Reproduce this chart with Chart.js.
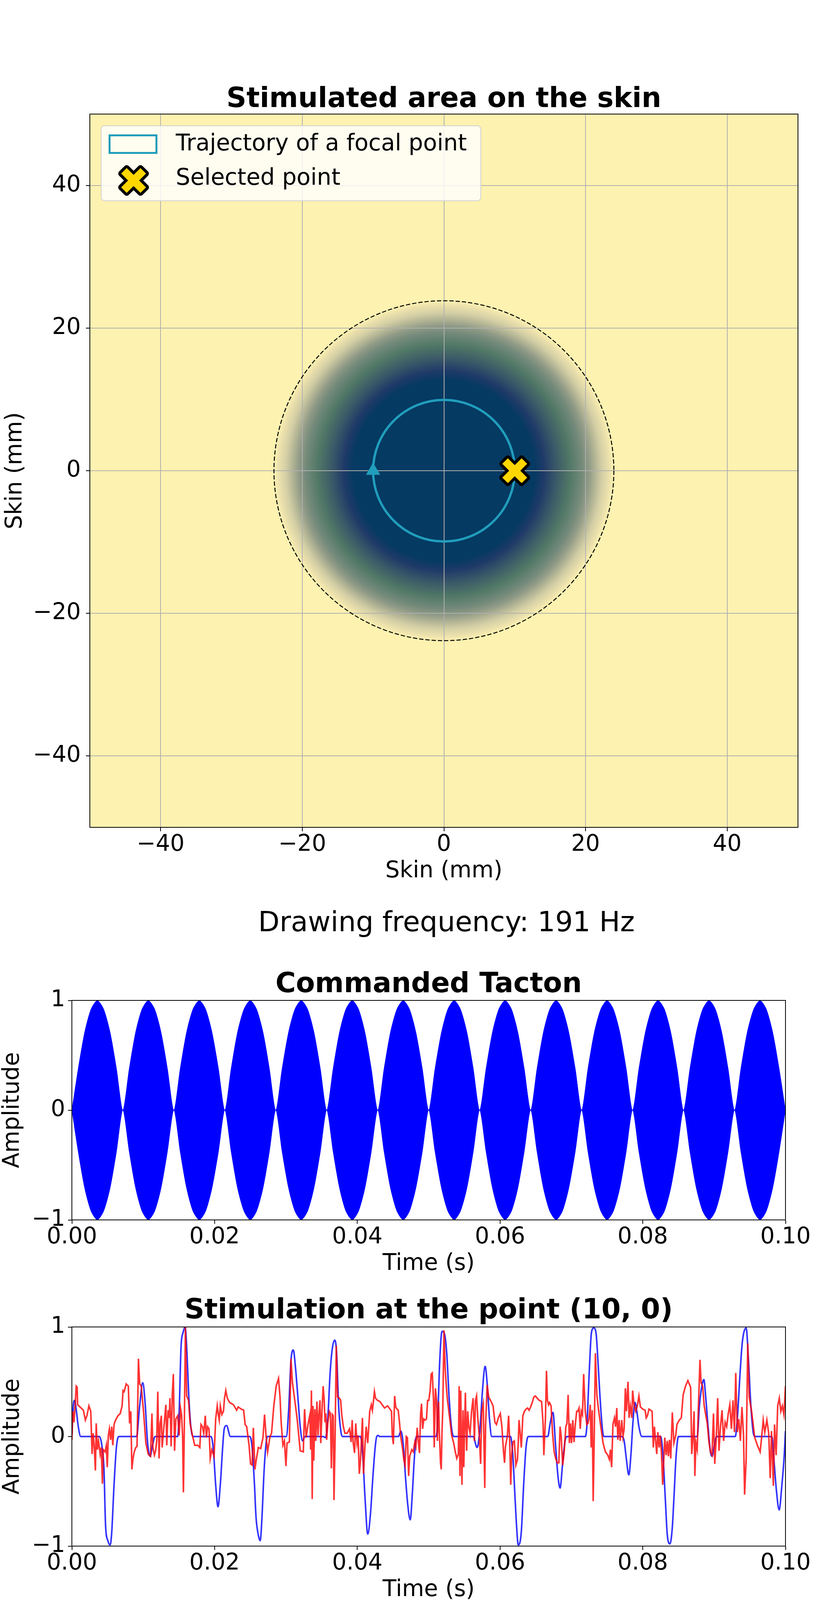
<!DOCTYPE html>
<html>
<head>
<meta charset="utf-8">
<title>Focal point stimulation</title>
<script src="https://cdn.jsdelivr.net/npm/chart.js@4.4.1/dist/chart.umd.min.js"></script>
<style>
  body { margin: 0; background: #fff; width: 2084px; height: 4950px; position: relative; overflow: hidden; }
  #page { position: absolute; left: 0; top: 0; width: 2084px; height: 4950px; }
  .panel { position: absolute; left: 0; width: 2084px; }
  #freqText { position: absolute; left: 143px; width: 2000px; top: 2324px; text-align: center;
              font: 71px/71px 'DejaVu Sans'; color: #000; }
</style>
</head>
<body>
<div id="page">
<div class="panel" style="top:180px;height:2120px"><canvas id="skinChart" width="2084" height="2120"></canvas></div>
<div id="freqText">Drawing frequency: 191 Hz</div>
<div class="panel" style="top:2440px;height:865px"><canvas id="tactonChart" width="2084" height="865"></canvas></div>
<div class="panel" style="top:3305px;height:835px"><canvas id="pointChart" width="2084" height="835"></canvas></div>
<div class="panel" style="top:4140px;height:810px"><canvas id="spectrumChart" width="2084" height="810"></canvas></div>
</div>
<script>
// ---- skin map ----
const skinTicks = [-40, -20, 0, 20, 40];
const focusCenter = [0, 0];
const heatRadius = [0, 12.8, 14.1, 15.8, 17.7, 19.5, 20.5, 21.4, 22.3, 23.3, 24];
const heatColor = ['#053a62', '#053a62', '#1f3a68', '#3a5868', '#4f7766', '#748a7a',
                   '#919b87', '#b3b595', '#d3cea5', '#ebe0ac', '#fbf0b0'];
const trajectoryRadius = 10;
const boundaryRadius = 24;
const startPoint = [{x: -10, y: 0}];
const selectedPoint = [{x: 10, y: 0}];
const legendLabels = ['Trajectory of a focal point', 'Selected point'];

// ---- time signals ----
const timeTicks = [0, 0.02, 0.04, 0.06, 0.08, 0.1];
const ampTicks = [-1, 0, 1];

const tactonTime = [
  0, 0.00089, 0.00179, 0.00268, 0.00357, 0.00446, 0.00536, 0.00625,
  0.00714, 0.00804, 0.00893, 0.00982, 0.01071, 0.01161, 0.0125, 0.01339,
  0.01429, 0.01518, 0.01607, 0.01696, 0.01786, 0.01875, 0.01964, 0.02054,
  0.02143, 0.02232, 0.02321, 0.02411, 0.025, 0.02589, 0.02679, 0.02768,
  0.02857, 0.02946, 0.03036, 0.03125, 0.03214, 0.03304, 0.03393, 0.03482,
  0.03571, 0.03661, 0.0375, 0.03839, 0.03929, 0.04018, 0.04107, 0.04196,
  0.04286, 0.04375, 0.04464, 0.04554, 0.04643, 0.04732, 0.04821, 0.04911,
  0.05, 0.05089, 0.05179, 0.05268, 0.05357, 0.05446, 0.05536, 0.05625,
  0.05714, 0.05804, 0.05893, 0.05982, 0.06071, 0.06161, 0.0625, 0.06339,
  0.06429, 0.06518, 0.06607, 0.06696, 0.06786, 0.06875, 0.06964, 0.07054,
  0.07143, 0.07232, 0.07321, 0.07411, 0.075, 0.07589, 0.07679, 0.07768,
  0.07857, 0.07946, 0.08036, 0.08125, 0.08214, 0.08304, 0.08393, 0.08482,
  0.08571, 0.08661, 0.0875, 0.08839, 0.08929, 0.09018, 0.09107, 0.09196,
  0.09286, 0.09375, 0.09464, 0.09554, 0.09643, 0.09732, 0.09821, 0.09911,
  0.1
];
const tactonUpper = [
  0, 0.38, 0.71, 0.92, 1, 0.92, 0.71, 0.38,
  0, 0.38, 0.71, 0.92, 1, 0.92, 0.71, 0.38,
  0, 0.38, 0.71, 0.92, 1, 0.92, 0.71, 0.38,
  0, 0.38, 0.71, 0.92, 1, 0.92, 0.71, 0.38,
  0, 0.38, 0.71, 0.92, 1, 0.92, 0.71, 0.38,
  0, 0.38, 0.71, 0.92, 1, 0.92, 0.71, 0.38,
  0, 0.38, 0.71, 0.92, 1, 0.92, 0.71, 0.38,
  0, 0.38, 0.71, 0.92, 1, 0.92, 0.71, 0.38,
  0, 0.38, 0.71, 0.92, 1, 0.92, 0.71, 0.38,
  0, 0.38, 0.71, 0.92, 1, 0.92, 0.71, 0.38,
  0, 0.38, 0.71, 0.92, 1, 0.92, 0.71, 0.38,
  0, 0.38, 0.71, 0.92, 1, 0.92, 0.71, 0.38,
  0, 0.38, 0.71, 0.92, 1, 0.92, 0.71, 0.38,
  0, 0.38, 0.71, 0.92, 1, 0.92, 0.71, 0.38,
  0
];
const tactonLower = [
  0, -0.38, -0.71, -0.92, -1, -0.92, -0.71, -0.38,
  0, -0.38, -0.71, -0.92, -1, -0.92, -0.71, -0.38,
  0, -0.38, -0.71, -0.92, -1, -0.92, -0.71, -0.38,
  0, -0.38, -0.71, -0.92, -1, -0.92, -0.71, -0.38,
  0, -0.38, -0.71, -0.92, -1, -0.92, -0.71, -0.38,
  0, -0.38, -0.71, -0.92, -1, -0.92, -0.71, -0.38,
  0, -0.38, -0.71, -0.92, -1, -0.92, -0.71, -0.38,
  0, -0.38, -0.71, -0.92, -1, -0.92, -0.71, -0.38,
  0, -0.38, -0.71, -0.92, -1, -0.92, -0.71, -0.38,
  0, -0.38, -0.71, -0.92, -1, -0.92, -0.71, -0.38,
  0, -0.38, -0.71, -0.92, -1, -0.92, -0.71, -0.38,
  0, -0.38, -0.71, -0.92, -1, -0.92, -0.71, -0.38,
  0, -0.38, -0.71, -0.92, -1, -0.92, -0.71, -0.38,
  0, -0.38, -0.71, -0.92, -1, -0.92, -0.71, -0.38,
  0
];

const expectedTime = [
  0, 0.0002, 0.00037, 0.0006, 0.0009, 0.00124, 0.00385, 0.0042, 0.0045, 0.00472, 0.00504, 0.00537,
  0.00559, 0.00591, 0.00624, 0.00657, 0.00907, 0.0095, 0.00993, 0.01026, 0.0106, 0.01096, 0.0113, 0.01167,
  0.01483, 0.01504, 0.0153, 0.01559, 0.01587, 0.01613, 0.01639, 0.01667, 0.017, 0.0195, 0.01983, 0.02015,
  0.02048, 0.0208, 0.02113, 0.02135, 0.02167, 0.02222, 0.02493, 0.02526, 0.02559, 0.0258, 0.02613, 0.02639,
  0.02667, 0.02689, 0.02711, 0.02739, 0.03004, 0.03037, 0.0307, 0.03102, 0.03135, 0.03167, 0.032, 0.03233,
  0.03265, 0.0352, 0.03554, 0.03586, 0.03619, 0.03651, 0.03684, 0.0371, 0.03738, 0.03771, 0.03793, 0.04044,
  0.04076, 0.04109, 0.04146, 0.04185, 0.04218, 0.0425, 0.04272, 0.04294, 0.0431, 0.04577, 0.0461, 0.04643,
  0.04675, 0.04708, 0.04741, 0.04773, 0.04795, 0.04828, 0.051, 0.05122, 0.05155, 0.05187, 0.0522, 0.05253,
  0.05286, 0.05318, 0.05351, 0.05623, 0.05678, 0.05721, 0.05754, 0.05791, 0.05819, 0.05852, 0.05884, 0.06146,
  0.06179, 0.06211, 0.06233, 0.06255, 0.06298, 0.06331, 0.06364, 0.06396, 0.06669, 0.06702, 0.06741, 0.0678,
  0.06813, 0.06841, 0.06878, 0.06911, 0.06937, 0.07194, 0.07216, 0.07248, 0.07281, 0.07314, 0.07346, 0.07372,
  0.07401, 0.07434, 0.07455, 0.07706, 0.07739, 0.07771, 0.07804, 0.07837, 0.07858, 0.07891, 0.07917, 0.07946,
  0.07989, 0.0825, 0.08283, 0.08316, 0.08344, 0.08381, 0.08414, 0.08436, 0.08468, 0.08501, 0.08763, 0.08795,
  0.08828, 0.08856, 0.08882, 0.08915, 0.08948, 0.0897, 0.09003, 0.09035, 0.09296, 0.09329, 0.09362, 0.09395,
  0.09449, 0.09482, 0.09514, 0.09547, 0.09569, 0.09808, 0.09841, 0.09874, 0.09911, 0.0995, 0.09983, 0.1
];
const expectedAmp = [
  0.02, 0.28, 0.33, 0.25, 0.09, 0, 0, -0.08, -0.3, -0.81, -0.95, -0.99,
  -0.87, -0.44, -0.1, 0, 0, 0.28, 0.49, 0.31, -0.05, -0.18, -0.08, 0,
  0, 0.23, 0.82, 0.95, 1.0, 0.76, 0.36, 0.09, 0, 0, -0.12, -0.44,
  -0.64, -0.44, -0.1, 0.07, 0.1, 0, 0, -0.1, -0.44, -0.73, -0.9, -0.95,
  -0.7, -0.37, -0.14, 0, 0, 0.23, 0.69, 0.79, 0.62, 0.36, 0.09, -0.04,
  0, 0, -0.01, 0.16, 0.58, 0.81, 0.88, 0.76, 0.28, 0.04, 0, 0,
  -0.17, -0.57, -0.89, -0.7, -0.37, -0.1, 0, 0.01, 0, 0, 0.05, -0.07,
  -0.37, -0.63, -0.76, -0.5, -0.24, 0, 0, 0.09, 0.69, 0.96, 0.94, 0.76,
  0.36, 0.09, 0, 0, -0.1, 0.09, 0.42, 0.64, 0.49, 0.16, 0, 0,
  -0.17, -0.57, -0.83, -0.99, -0.87, -0.44, -0.1, 0, 0, 0.12, 0.22, -0.1,
  -0.37, -0.47, -0.24, -0.04, 0, 0, 0.09, 0.56, 0.95, 0.99, 0.94, 0.69,
  0.36, 0.07, 0, 0, -0.04, -0.21, -0.35, -0.14, 0.09, 0.31, 0.23, 0.09,
  0, 0, -0.17, -0.57, -0.9, -0.98, -0.83, -0.57, -0.17, 0, 0, 0.29,
  0.46, 0.52, 0.36, 0.09, -0.14, -0.18, -0.08, 0, 0, 0.2, 0.56, 0.86,
  0.99, 0.69, 0.29, 0.04, 0, 0, -0.24, -0.5, -0.67, -0.44, -0.17, 0.05
];

const measuredTime = [
  0, 0.00015, 0.0003, 0.00048, 0.00061, 0.00074, 0.0008, 0.00113, 0.00146, 0.00161, 0.00189, 0.00211,
  0.00239, 0.00265, 0.00283, 0.00298, 0.00313, 0.0033, 0.00341, 0.00357, 0.00374, 0.00396, 0.00411, 0.00428,
  0.00439, 0.00465, 0.00483, 0.00496, 0.00511, 0.00526, 0.00543, 0.00559, 0.00574, 0.00591, 0.00613, 0.00646,
  0.00678, 0.00704, 0.00717, 0.00733, 0.00761, 0.00791, 0.00809, 0.00826, 0.00841, 0.00857, 0.00874, 0.00896,
  0.00913, 0.00933, 0.0095, 0.00972, 0.01004, 0.01037, 0.0107, 0.01102, 0.01122, 0.01135, 0.01157, 0.01174,
  0.01189, 0.01204, 0.01222, 0.01237, 0.01254, 0.01265, 0.01287, 0.01317, 0.0133, 0.01348, 0.01365, 0.01374,
  0.01391, 0.01407, 0.01422, 0.01439, 0.01457, 0.01483, 0.01504, 0.01522, 0.01537, 0.01552, 0.01563, 0.01576,
  0.01591, 0.01609, 0.01635, 0.01657, 0.01689, 0.01722, 0.01765, 0.01793, 0.01809, 0.0183, 0.01848, 0.0187,
  0.01885, 0.01902, 0.01922, 0.01939, 0.01961, 0.01993, 0.02015, 0.02037, 0.02052, 0.02065, 0.0208, 0.02102,
  0.02124, 0.02139, 0.02157, 0.02178, 0.02211, 0.02265, 0.02309, 0.0233, 0.02374, 0.02407, 0.02428, 0.0245,
  0.02483, 0.02504, 0.02526, 0.02543, 0.02565, 0.02587, 0.02613, 0.02646, 0.02678, 0.027, 0.02722, 0.02743,
  0.02776, 0.02798, 0.0283, 0.02863, 0.02896, 0.02917, 0.02933, 0.02957, 0.02978, 0.03, 0.03015, 0.03048,
  0.0307, 0.03091, 0.03124, 0.03157, 0.032, 0.03243, 0.03261, 0.03283, 0.03309,
  0.03336, 0.03346, 0.03357, 0.03368, 0.03379, 0.0339, 0.03405, 0.03418, 0.03434, 0.03449, 0.03462, 0.03477,
  0.03488, 0.03505, 0.03521, 0.03536, 0.03547, 0.0356, 0.03571, 0.03586, 0.03608, 0.03623, 0.03636, 0.03651,
  0.03662, 0.03673, 0.03688, 0.03705, 0.03723, 0.03749, 0.03767, 0.03782, 0.03804, 0.03826, 0.03858, 0.03891,
  0.03913, 0.03928, 0.03941, 0.03961, 0.03978, 0.03996, 0.04011, 0.04028, 0.04044, 0.04072, 0.04087, 0.04109,
  0.04124, 0.04146, 0.04174, 0.04196, 0.04211, 0.04224, 0.0424, 0.04255, 0.04283, 0.04316, 0.04349, 0.04381,
  0.04425, 0.04458, 0.04479, 0.0449, 0.04505, 0.04523, 0.04538, 0.04556, 0.04573, 0.04588, 0.0461, 0.04632,
  0.04654, 0.04669, 0.04686, 0.04702, 0.04719, 0.04734, 0.04763, 0.04784, 0.04806, 0.04821, 0.04839, 0.04854,
  0.04871, 0.04887, 0.049, 0.04915, 0.04932, 0.04948, 0.04969, 0.04985, 0.05002, 0.0502, 0.05035, 0.0505,
  0.05068, 0.05078, 0.05094, 0.05111, 0.05122, 0.05139, 0.0515, 0.05166, 0.05176, 0.05187, 0.05198, 0.05214,
  0.05231, 0.05248, 0.05264, 0.05296, 0.05322, 0.05351, 0.05373, 0.05394, 0.05416, 0.05427, 0.05438, 0.05449,
  0.05466, 0.05481, 0.05492, 0.05514, 0.05532, 0.05547, 0.05562, 0.0558, 0.05601, 0.05623, 0.05641, 0.05656,
  0.05671, 0.05688, 0.0571, 0.05728, 0.05743, 0.05765, 0.05786, 0.05797, 0.05819, 0.05841, 0.05874, 0.05902,
  0.05928, 0.0595, 0.05976, 0.06004, 0.06026, 0.06048, 0.06063, 0.06076, 0.06102, 0.0612, 0.06135, 0.0615,
  0.06163, 0.06179, 0.062, 0.06222, 0.06244, 0.06255, 0.06266, 0.06281, 0.06298, 0.0632, 0.06342, 0.06364,
  0.06386, 0.06407, 0.06429, 0.06451, 0.06473, 0.06495, 0.06521, 0.06549, 0.06582, 0.06603, 0.06614, 0.06636,
  0.06651, 0.06664, 0.0668,
  0.06693, 0.06715, 0.06736, 0.06758, 0.0678, 0.06802, 0.06824, 0.06841, 0.06856, 0.06878, 0.069, 0.06922,
  0.06937, 0.06954, 0.06972, 0.06987, 0.07002, 0.0702, 0.07037, 0.07052, 0.07074, 0.07089, 0.07107, 0.07124,
  0.07139, 0.07155, 0.07172, 0.07194, 0.07216, 0.07233, 0.07248, 0.07264, 0.07277, 0.07292, 0.07305, 0.0732,
  0.07336, 0.07357, 0.07379, 0.07412, 0.07444, 0.07477, 0.0751, 0.07532, 0.07547, 0.07564, 0.07582, 0.07603,
  0.07619, 0.07636, 0.07651, 0.07669, 0.07684, 0.07706, 0.07723, 0.07739, 0.07756, 0.07771, 0.07793, 0.07808,
  0.07826, 0.07847, 0.07858, 0.0788, 0.07902, 0.07924, 0.07946, 0.07967, 0.08, 0.08033, 0.08048, 0.08065,
  0.08087, 0.08109, 0.08131, 0.08148, 0.08163, 0.08179, 0.08196, 0.08211, 0.08229, 0.08244, 0.08261, 0.08279,
  0.08294, 0.08309, 0.08327, 0.08344, 0.08359, 0.08375, 0.08392, 0.08414, 0.08436, 0.08462, 0.08479, 0.08512,
  0.0854, 0.08566, 0.08599, 0.08632, 0.08671, 0.08686, 0.08702, 0.08719, 0.0873, 0.08745, 0.08763, 0.0878,
  0.08802, 0.08817, 0.08839, 0.08861, 0.08882, 0.08904, 0.08926, 0.08948, 0.0897, 0.08991, 0.09009, 0.09028,
  0.0905, 0.09068, 0.09089, 0.09111, 0.09133, 0.09155, 0.09176, 0.09198, 0.0922, 0.09242, 0.09264, 0.09285,
  0.09303, 0.09325, 0.09346, 0.09368, 0.0939, 0.09412, 0.09427, 0.09449, 0.09471, 0.09492, 0.09525, 0.09569,
  0.09612, 0.09645, 0.09667, 0.09688, 0.0971, 0.09739, 0.09765, 0.09786, 0.09804, 0.0983, 0.09847, 0.09869,
  0.09891, 0.09913, 0.09935, 0.09956, 0.09978, 0.1
];
const measuredAmp = [
  -0.03, 0.23, 0.13, 0.31, 0.46, 0.45, 0.29, 0.27, 0.25, 0.24, 0.15, 0.19,
  0.28, 0.23, -0.16, 0.03, -0.09, -0.31, 0.12, -0.12, -0.04, -0.16, -0.1, -0.43,
  -0.12, -0.14, -0.08, -0.28, 0.01, 0.07, -0.03, 0.09, -0.08, 0.11, 0.15, 0.19,
  0.21, 0.28, 0.42, 0.41, 0.48, 0.46, 0.12, 0.23, -0.3, -0.2, -0.14, -0.1,
  -0.09, 0.71, 0.48, 0.46, 0.23, -0.06, -0.16, -0.18, 0.21, -0.1, -0.17, -0.13,
  -0.04, 0.41, -0.2, 0.12, 0.19, -0.1, 0.07, 0.29, -0.08, 0.24, 0.17, 0.35,
  -0.09, 0.38, 0.57, -0.13, 0.16, 0.19, 0.01, 0.26, 0.2, 0.0, -0.51, 0.09,
  1.0, 0.37, 0.33, 0.12, 0.01, -0.08, -0.08, -0.1, 0.11, 0.09, 0.03, 0.19,
  -0.01, 0.09, 0.07, -0.2, -0.12, -0.18, 0.16, 0.28, 0.2, 0.15, 0.28, 0.2,
  0.23, 0.35, 0.42, 0.35, 0.31, 0.29, 0.24, 0.27, 0.25, 0.24, 0.11, 0.09,
  -0.08, -0.25, -0.26, 0.08, -0.3, -0.2, -0.1, -0.11, -0.01, 0.2, 0.0, -0.14,
  0.0, 0.03, 0.28, 0.46, 0.53, 0.36, 0.13, -0.08, -0.04, -0.27, -0.06, -0.05,
  0.71, 0.49, 0.33, 0.16, -0.13, -0.14, 0.25, -0.01, 0.11,
  0.2, -0.12, 0.42, -0.57, 0.28, -0.22, 0.25, -0.04, 0.32, 0.01, 0.2, 0.33,
  -0.06, 0.23, 0.46, 0.33, 0.13, 0.21, -0.03, 0.12, 0.23, 0.21, -0.29, 0.2,
  0.19, -0.58, -0.04, 0.83, 0.36, 0.35, 0.33, 0.2, 0.09, 0.03, 0.03, 0.07,
  -0.05, 0.15, -0.05, -0.15, 0.12, -0.06, 0.01, -0.34, -0.22, 0.17, -0.34, -0.06,
  0.09, -0.06, 0.23, 0.29, 0.24, 0.31, 0.41, 0.35, 0.33, 0.32, 0.29, 0.26,
  0.28, 0.25, 0.23, 0.01, -0.07, 0.37, 0.27, 0.25, 0.24, 0.15, -0.01, -0.1,
  -0.22, -0.26, 0.0, -0.01, -0.36, -0.18, -0.12, -0.14, -0.05, -0.09, 0.08, -0.04,
  -0.15, 0.21, 0.3, 0.07, 0.16, 0.15, 0.16, 0.33, 0.33, 0.42, 0.57, 0.58,
  0.33, -0.1, 0.44, 0.33, -0.04, 0.32, 0.03, -0.24, -0.3, 0.05, 0.25, 0.97,
  0.62, 0.45, 0.33, 0.16, 0.01, -0.06, -0.14, -0.2, -0.16, 0.46, -0.36, 0.42,
  -0.44, 0.24, -0.28, 0.4, -0.13, 0.23, 0.09, 0.03, 0.23, 0.35, -0.04, 0.33,
  0.37, 0.17, 0.0, -0.25, 0.23, 0.3, -0.47, 0.09, 0.47, 0.36, 0.32, 0.28,
  0.13, 0.11, 0.17, 0.21, 0.09, -0.13, -0.24, -0.09, 0.0, 0.19, -0.04, -0.44,
  -0.17, -0.05, -0.04, -0.26, -0.21, -0.06, 0.15, 0.04, -0.1, 0.19, 0.23, 0.25,
  0.26, 0.24, 0.27, 0.31, 0.36, 0.37, 0.35, 0.33, 0.32, 0.12, -0.17, 0.16,
  0.6, 0.33, 0.29,
  0.31, 0.28, 0.03, -0.14, -0.2, -0.24, -0.24, 0.09, 0.01, -0.26, -0.13, 0.09,
  0.12, 0.38, -0.06, 0.12, -0.06, 0.15, -0.05, 0.09, 0.23, 0.23, 0.26, 0.07,
  0.23, 0.2, 0.57, 0.23, 0.11, 0.12, 0.17, 0.29, -0.1, 0.24, -0.59, -0.01,
  0.76, 0.38, 0.25, 0.09, -0.06, -0.14, -0.17, -0.21, -0.12, -0.28, 0.11, 0.17,
  0.09, 0.26, -0.03, 0.15, -0.04, 0.15, 0.0, 0.07, 0.44, 0.23, 0.5, 0.17,
  0.28, 0.17, 0.42, 0.28, 0.23, 0.28, 0.37, 0.27, 0.25, 0.24, 0.17, 0.19,
  0.25, 0.24, 0.23, -0.1, 0.09, -0.03, -0.16, 0.04, -0.1, 0.01, -0.14, -0.44,
  -0.22, -0.01, -0.17, -0.04, -0.18, -0.03, -0.2, 0.22, -0.06, 0.01, 0.11, 0.15,
  0.17, 0.38, 0.46, 0.51, 0.45, -0.16, -0.03, 0.23, -0.36, -0.06, -0.12, 0.28,
  0.7, 0.49, 0.46, 0.28, 0.2, 0.12, -0.04, -0.14, -0.17, 0.21, -0.25, -0.04,
  0.35, -0.13, 0.09, 0.24, -0.04, 0.13, 0.09, 0.21, 0.29, 0.07, 0.33, 0.04,
  0.58, 0.04, 0.16, -0.04, 0.27, 0.01, -0.53, -0.21, 0.85, 0.36, 0.23, -0.01,
  -0.09, -0.14, 0.0, 0.15, 0.04, 0.15, 0.03, -0.38, 0.05, -0.45, 0.11, -0.17,
  0.28, 0.35, 0.23, 0.28, 0.2, 0.46
];

// ---- spectrum ----
const freqTicks = [0, 50, 100, 150, 200, 250, 300, 350, 400, 450, 500];
const magTicks = [0, 0.1, 0.2];
const expectedFreq = [0, 45, 49, 50, 50.8, 51.6, 53, 56, 100, 138.5, 139.2, 139.7, 140.3, 141,
  241, 241.6, 242, 242.5, 243, 330, 330.5, 331, 331.6, 332, 432, 432.4, 432.8, 433.2, 434, 500];
const expectedMag = [0, 0.001, 0.003, 0.02, 0.23, 0.02, 0.002, 0.0005, 0.0003, 0.001, 0.02, 0.272, 0.02, 0.001,
  0.001, 0.02, 0.133, 0.02, 0.001, 0.001, 0.02, 0.23, 0.02, 0.001, 0.001, 0.01, 0.043, 0.01, 0.001, 0];
const measuredFreq = [
  0, 20, 40, 55, 59, 60, 61, 70, 75, 80, 85, 87.5, 88.8, 90, 95, 100.5, 102, 103.5, 108, 113.5, 115, 116.5,
  121, 126, 127.3, 128.5, 133, 138.8, 139.8, 141, 146, 151.5, 152.8, 154, 160, 165, 170, 176.5, 178, 179.5,
  185, 189.5, 190.8, 192, 198, 202.3, 203.6, 205, 210, 214.5, 215.6, 217, 222, 227.5, 228.8, 230, 236,
  240.8, 242, 243.2, 248, 253.5, 254.8, 256, 261, 265.5, 266.8, 268, 274, 278.8, 280, 281.2, 287, 291.5,
  292.8, 294, 299, 300, 301, 304.8, 306, 312, 318, 324, 329.8, 331, 332.2, 338, 342.5, 343.6, 345, 350,
  356, 362, 367.6, 368.8, 370, 376, 380.8, 382, 383.2, 388, 393.5, 394.7, 396, 401, 406, 407, 408, 414,
  418.8, 420, 421.2, 427, 431.5, 432.7, 434, 439, 444, 445, 446, 452, 456.8, 458, 459.2, 465, 469.6,
  470.8, 472, 478, 482.7, 483.9, 485, 490, 494.8, 496, 497.2, 500
];
const measuredMag = [
  0.001, 0.001, 0.0012, 0.0015, 0.002, 0.005, 0.002, 0.002, 0.003, 0.002, 0.003, 0.004, 0.058, 0.004, 0.003,
  0.004, 0.017, 0.004, 0.003, 0.004, 0.009, 0.004, 0.003, 0.004, 0.007, 0.003, 0.003, 0.004, 0.175, 0.004,
  0.003, 0.004, 0.016, 0.004, 0.003, 0.004, 0.003, 0.004, 0.013, 0.004, 0.003, 0.004, 0.036, 0.004, 0.003,
  0.004, 0.009, 0.004, 0.003, 0.004, 0.007, 0.003, 0.004, 0.004, 0.019, 0.004, 0.003, 0.004, 0.016, 0.004,
  0.003, 0.004, 0.008, 0.004, 0.003, 0.004, 0.007, 0.004, 0.003, 0.004, 0.054, 0.004, 0.003, 0.004, 0.017,
  0.004, 0.004, 0.008, 0.004, 0.007, 0.004, 0.003, 0.004, 0.003, 0.004, 0.033, 0.004, 0.004, 0.005, 0.01,
  0.005, 0.004, 0.005, 0.004, 0.005, 0.037, 0.005, 0.004, 0.005, 0.029, 0.005, 0.004, 0.005, 0.01, 0.005,
  0.004, 0.005, 0.007, 0.005, 0.004, 0.005, 0.064, 0.005, 0.004, 0.005, 0.027, 0.005, 0.004, 0.005, 0.008,
  0.005, 0.004, 0.005, 0.017, 0.005, 0.004, 0.006, 0.087, 0.006, 0.005, 0.006, 0.017, 0.006, 0.005, 0.006,
  0.011, 0.006, 0.007
];
const peakLabels = ['140Hz', '191Hz'];
const labelFreq = [235.8, 235.8];
const labelMag = [0.2611, 0.1882];
const arrowTailFreq = [185.7, 206.1];
const arrowTailMag = [0.2683, 0.1462];
const arrowTipFreq = [145.9, 192.1];
const arrowTipMag = [0.245, 0.054];

// ---- shared styling ----
const FAMILY = 'DejaVu Sans';
const tickFont = {family: FAMILY, size: 58, lineHeight: 1};
const titleFont = {family: FAMILY, size: 71, weight: 'bold', lineHeight: 1};
const trajectoryColor = '#219ebc';
const blueLine = 'rgba(0, 0, 255, 0.8)';
const redLine = 'rgba(255, 0, 0, 0.8)';
Chart.defaults.font.family = FAMILY;
Chart.defaults.color = '#000';

const signed = v => String(v).replace('-', '\u2212');
const toPoints = (xs, ys) => xs.map((x, i) => ({x: x, y: ys[i]}));

function axis(o) {
  return {
    type: 'linear',
    min: o.min,
    max: o.max,
    afterBuildTicks: scale => { scale.ticks = o.ticks.map(v => ({value: v})); },
    afterFit: scale => {
      if (o.width) scale.width = o.width;
      if (o.height) scale.height = o.height;
    },
    ticks: {font: tickFont, color: '#000', padding: o.tickPad, autoSkip: false, maxRotation: 0, callback: o.format},
    grid: Object.assign({drawOnChartArea: false, tickColor: '#000', tickLength: 10, tickWidth: 2}, o.grid || {}),
    border: {display: true, color: '#000', width: 2},
    title: {display: true, text: o.title, font: tickFont, color: '#000', padding: o.titlePad}
  };
}

function chartTitle(text, top, bottom) {
  return {display: true, text: text, font: titleFont, color: '#000', fullSize: false, padding: {top: top, bottom: bottom}};
}

// black box around every plot, like the spines
const framePlugin = {
  id: 'frame',
  afterDatasetsDraw(chart) {
    const {ctx, chartArea: a} = chart;
    ctx.save();
    ctx.strokeStyle = '#000';
    ctx.lineWidth = 2;
    ctx.strokeRect(a.left, a.top, a.right - a.left, a.bottom - a.top);
    ctx.restore();
  }
};

// filled "X" marker drawn once and reused as a point style
function makeXMarker() {
  const c = document.createElement('canvas');
  c.width = 86;
  c.height = 86;
  const g = c.getContext('2d');
  const L = 35, h = 10;
  g.translate(43, 43);
  g.rotate(Math.PI / 4);
  g.beginPath();
  g.moveTo(-h, -L); g.lineTo(h, -L); g.lineTo(h, -h); g.lineTo(L, -h); g.lineTo(L, h); g.lineTo(h, h);
  g.lineTo(h, L); g.lineTo(-h, L); g.lineTo(-h, h); g.lineTo(-L, h); g.lineTo(-L, -h); g.lineTo(-h, -h);
  g.closePath();
  g.lineJoin = 'round';
  g.lineWidth = 15;
  g.strokeStyle = '#000';
  g.stroke();
  g.fillStyle = '#ffd700';
  g.fill();
  return c;
}
const xMarker = makeXMarker();

// ---- chart 1: stimulated area ----
const heatmapPlugin = {
  id: 'heatmap',
  beforeDraw(chart) {
    const {ctx, chartArea: a, scales: {x, y}} = chart;
    const cx = x.getPixelForValue(focusCenter[0]);
    const cy = y.getPixelForValue(focusCenter[1]);
    const rMax = heatRadius[heatRadius.length - 1];
    const rPix = x.getPixelForValue(focusCenter[0] + rMax) - cx;
    ctx.save();
    ctx.beginPath();
    ctx.rect(a.left, a.top, a.right - a.left, a.bottom - a.top);
    ctx.clip();
    ctx.fillStyle = '#fdf2b0';
    ctx.fillRect(a.left, a.top, a.right - a.left, a.bottom - a.top);
    const grad = ctx.createRadialGradient(cx, cy, 0, cx, cy, rPix);
    heatRadius.forEach((r, i) => grad.addColorStop(r / rMax, heatColor[i]));
    ctx.fillStyle = grad;
    ctx.beginPath();
    ctx.arc(cx, cy, rPix, 0, Math.PI * 2);
    ctx.fill();
    ctx.restore();
  }
};

const circlesPlugin = {
  id: 'circles',
  beforeDatasetsDraw(chart) {
    const {ctx, chartArea: a, scales: {x, y}} = chart;
    const cx = x.getPixelForValue(focusCenter[0]);
    const cy = y.getPixelForValue(focusCenter[1]);
    const px = r => x.getPixelForValue(focusCenter[0] + r) - cx;
    ctx.save();
    ctx.beginPath();
    ctx.rect(a.left, a.top, a.right - a.left, a.bottom - a.top);
    ctx.clip();
    ctx.setLineDash([11, 5]);
    ctx.lineWidth = 2.5;
    ctx.strokeStyle = '#000';
    ctx.beginPath();
    ctx.arc(cx, cy, px(boundaryRadius), 0, Math.PI * 2);
    ctx.stroke();
    ctx.setLineDash([]);
    ctx.lineWidth = 6;
    ctx.strokeStyle = trajectoryColor;
    ctx.beginPath();
    ctx.arc(cx, cy, px(trajectoryRadius), 0, Math.PI * 2);
    ctx.stroke();
    ctx.restore();
  }
};

const skinLegendPlugin = {
  id: 'skinLegend',
  afterDatasetsDraw(chart) {
    const {ctx, chartArea: a} = chart;
    const left = a.left + 29, top = a.top + 30;
    ctx.save();
    ctx.beginPath();
    if (ctx.roundRect) ctx.roundRect(left, top, 972, 192, 9);
    else ctx.rect(left, top, 972, 192);
    ctx.fillStyle = 'rgba(255, 255, 255, 0.8)';
    ctx.fill();
    ctx.strokeStyle = '#d0d0d0';
    ctx.lineWidth = 2;
    ctx.stroke();
    ctx.strokeStyle = trajectoryColor;
    ctx.lineWidth = 5;
    ctx.strokeRect(a.left + 50.5, a.top + 54.5, 120, 45);
    ctx.drawImage(xMarker, a.left + 112 - xMarker.width / 2, a.top + 170 - xMarker.height / 2);
    ctx.fillStyle = '#000';
    ctx.font = '58.5px "DejaVu Sans"';
    ctx.textAlign = 'left';
    ctx.textBaseline = 'middle';
    ctx.fillText(legendLabels[0], a.left + 220, a.top + 78);
    ctx.fillText(legendLabels[1], a.left + 220, a.top + 166);
    ctx.restore();
  }
};

const skinGrid = {drawOnChartArea: true, color: '#b0b0b0', lineWidth: 2};

new Chart(document.getElementById('skinChart'), {
  type: 'scatter',
  data: {
    datasets: [
      {label: legendLabels[1], data: selectedPoint, pointStyle: xMarker, pointRadius: 40},
      {label: 'start', data: startPoint, pointStyle: 'triangle', pointRadius: 21,
       backgroundColor: trajectoryColor, borderWidth: 0}
    ]
  },
  options: {
    responsive: false,
    animation: false,
    devicePixelRatio: 1,
    layout: {padding: {left: 0, right: 28, top: 0, bottom: 0}},
    plugins: {
      legend: {display: false},
      tooltip: {enabled: false},
      title: chartTitle('Stimulated area on the skin', 40.5, 0.5)
    },
    scales: {
      x: axis({min: -50, max: 50, ticks: skinTicks, format: signed, title: 'Skin (mm)', height: 182,
               tickPad: 6, titlePad: {top: 0, bottom: 40}, grid: skinGrid}),
      y: axis({min: -50, max: 50, ticks: skinTicks, format: signed, title: 'Skin (mm)', width: 230,
               tickPad: 13, titlePad: {top: 11, bottom: 0}, grid: skinGrid})
    }
  },
  plugins: [heatmapPlugin, circlesPlugin, framePlugin, skinLegendPlugin]
});

// ---- charts 2-4 ----
function seriesChart(id, cfg) {
  return new Chart(document.getElementById(id), {
    type: 'line',
    data: {datasets: cfg.datasets},
    options: {
      responsive: false,
      animation: false,
      devicePixelRatio: 1,
      layout: {padding: {left: 0, right: 73, top: 0, bottom: 0}},
      elements: {point: {radius: 0}},
      plugins: {
        legend: {display: false},
        tooltip: {enabled: false},
        title: chartTitle(cfg.title, cfg.titleTop, cfg.titleBottom)
      },
      scales: {x: axis(cfg.x), y: axis(cfg.y)}
    },
    plugins: [framePlugin].concat(cfg.plugins || [])
  });
}

const timeAxis = {min: 0, max: 0.1, ticks: timeTicks, format: v => v.toFixed(2), title: 'Time (s)',
                  height: 182, tickPad: 6, titlePad: {top: 0, bottom: 40}};
const ampAxis = {min: -1, max: 1, ticks: ampTicks, format: signed, title: 'Amplitude',
                 width: 184, tickPad: 7, titlePad: {top: 4, bottom: 0}};

seriesChart('tactonChart', {
  title: 'Commanded Tacton', titleTop: 46.5, titleBottom: 3.5,
  datasets: [
    {data: toPoints(tactonTime, tactonUpper), borderColor: '#0000ff', borderWidth: 1,
     backgroundColor: '#0000ff', fill: '+1', tension: 0.25},
    {data: toPoints(tactonTime, tactonLower), borderColor: '#0000ff', borderWidth: 1,
     fill: false, tension: 0.25}
  ],
  x: timeAxis,
  y: ampAxis
});

seriesChart('pointChart', {
  title: 'Stimulation at the point (10, 0)', titleTop: 16.5, titleBottom: 4.5,
  datasets: [
    {data: toPoints(expectedTime, expectedAmp), borderColor: blueLine, borderWidth: 4,
     cubicInterpolationMode: 'monotone', fill: false, order: 2},
    {data: toPoints(measuredTime, measuredAmp), borderColor: redLine, borderWidth: 4,
     fill: false, order: 1}
  ],
  x: timeAxis,
  y: ampAxis
});

function drawArrow(ctx, x0, y0, x1, y1) {
  const ang = Math.atan2(y1 - y0, x1 - x0);
  const headLen = 32, headHalf = 15;
  const bx = x1 - Math.cos(ang) * headLen, by = y1 - Math.sin(ang) * headLen;
  ctx.strokeStyle = '#000';
  ctx.fillStyle = '#000';
  ctx.lineWidth = 9;
  ctx.beginPath();
  ctx.moveTo(x0, y0);
  ctx.lineTo(bx, by);
  ctx.stroke();
  ctx.beginPath();
  ctx.moveTo(x1, y1);
  ctx.lineTo(bx - Math.sin(ang) * headHalf, by + Math.cos(ang) * headHalf);
  ctx.lineTo(bx + Math.sin(ang) * headHalf, by - Math.cos(ang) * headHalf);
  ctx.closePath();
  ctx.fill();
}

const peakLabelPlugin = {
  id: 'peakLabels',
  afterDatasetsDraw(chart) {
    const {ctx, scales: {x, y}} = chart;
    ctx.save();
    peakLabels.forEach((text, i) => {
      const tx = x.getPixelForValue(labelFreq[i]);
      const ty = y.getPixelForValue(labelMag[i]);
      ctx.fillStyle = '#e5e5e5';
      ctx.fillRect(tx - 163.5, ty - 55.5, 327, 111);
      ctx.fillStyle = '#000';
      ctx.font = '90px "Liberation Sans"';
      ctx.textAlign = 'center';
      ctx.textBaseline = 'middle';
      ctx.fillText(text, tx, ty + 2);
      drawArrow(ctx, x.getPixelForValue(arrowTailFreq[i]), y.getPixelForValue(arrowTailMag[i]),
                x.getPixelForValue(arrowTipFreq[i]), y.getPixelForValue(arrowTipMag[i]));
    });
    ctx.restore();
  }
};

seriesChart('spectrumChart', {
  title: 'Frequency spectrum at the point (10, 0)', titleTop: 20.5, titleBottom: 4.5,
  datasets: [
    {data: toPoints(expectedFreq, expectedMag), borderColor: blueLine, borderWidth: 3.5, fill: false, order: 2},
    {data: toPoints(measuredFreq, measuredMag), borderColor: redLine, borderWidth: 3.5, fill: false, order: 1}
  ],
  x: {min: 0, max: 500, ticks: freqTicks, format: v => String(v), title: 'Frequency (Hz)',
      height: 151, tickPad: 5, titlePad: {top: 0, bottom: 12}},
  y: {min: 0, max: 0.298, ticks: magTicks, format: v => v.toFixed(1), title: 'Magintude',
      width: 184, tickPad: 7, titlePad: {top: 4, bottom: 0}},
  plugins: [peakLabelPlugin]
});
</script>
</body>
</html>
